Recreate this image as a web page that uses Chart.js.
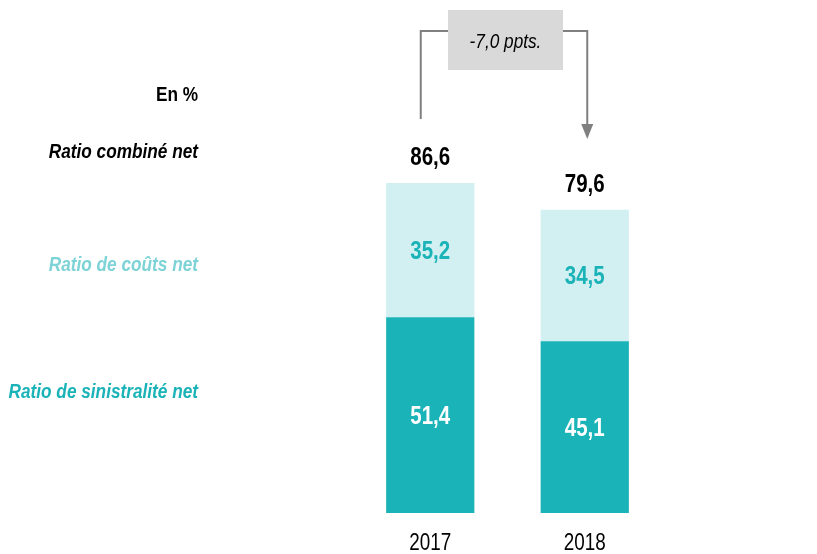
<!DOCTYPE html>
<html>
<head>
<meta charset="utf-8">
<script src="https://cdn.jsdelivr.net/npm/chart.js@4"></script>
<style>
  html, body { margin: 0; padding: 0; background: #fff; }
  #wrap { width: 817px; height: 554px; }
</style>
</head>
<body>
<div id="wrap"><canvas id="chart" width="817" height="554"></canvas></div>
<script>
const annees = ['2017', '2018'];
const sinistralite = [51.4, 45.1];
const couts = [35.2, 34.5];
const combine = [86.6, 79.6];
const ecart = '-7,0 ppts.';

const FONT = '"Liberation Sans", Arial, sans-serif';
const TEAL = '#1AB3B8';
const TEAL_CLAIR = '#D2EFF1';
const TEAL_TEXTE = '#7DD3D6';
const SERRE = 0.82; // police étroite simulée

function fmt(v) {
    return v.toFixed(1).replace('.', ',');
}

// texte condensé horizontalement (pas d'Arial Narrow dispo)
function texte(ctx, str, x, y, font, color, align) {
    ctx.save();
    ctx.font = font + ' ' + FONT;
    ctx.fillStyle = color;
    ctx.textAlign = align || 'center';
    ctx.textBaseline = 'middle';
    ctx.translate(x, y);
    ctx.scale(SERRE, 1);
    ctx.fillText(str, 0, 0);
    ctx.restore();
}

// --- Étiquettes, libellés à gauche et flèche d'écart ---
const decorPlugin = {
    id: 'decor',
    afterDatasetsDraw(chart) {
        const ctx = chart.ctx;
        const y = chart.scales.y;
        const bas = chart.getDatasetMeta(0).data;
        const haut = chart.getDatasetMeta(1).data;

        bas.forEach((bar, i) => {
            texte(ctx, fmt(sinistralite[i]), bar.x, (bar.y + bar.base) / 2 + 2.5, 'bold 25px', '#fff');
            texte(ctx, chart.data.labels[i], bar.x, chart.chartArea.bottom + 31, '23px', '#000');
        });
        haut.forEach((bar, i) => {
            texte(ctx, fmt(couts[i]), bar.x, (bar.y + bar.base) / 2 + 2, 'bold 25px', TEAL);
            texte(ctx, fmt(combine[i]), bar.x, y.getPixelForValue(combine[i]) - 25, 'bold 25px', '#000');
        });

        // libellés à gauche
        const xl = 198;
        texte(ctx, 'En %', xl, 95, 'bold 21px', '#000', 'right');
        texte(ctx, 'Ratio combiné net', xl, 152, 'italic bold 21px', '#000', 'right');
        texte(ctx, 'Ratio de coûts net', xl, 265, 'italic bold 21px', TEAL_TEXTE, 'right');
        texte(ctx, 'Ratio de sinistralité net', xl, 392, 'italic bold 21px', TEAL, 'right');

        // flèche d'écart
        const xa = haut[0].x - 9.5;
        const xb = haut[1].x + 2.5;
        const yh = 31;
        const boxL = 448, boxR = 563, boxT = 10, boxB = 70;
        ctx.save();
        ctx.strokeStyle = '#808080';
        ctx.lineWidth = 2;
        ctx.beginPath();
        ctx.moveTo(xa, y.getPixelForValue(combine[0]) - 64);
        ctx.lineTo(xa, yh);
        ctx.lineTo(boxL, yh);
        ctx.moveTo(boxR, yh);
        ctx.lineTo(xb, yh);
        ctx.lineTo(xb, 126);
        ctx.stroke();
        ctx.fillStyle = '#808080';
        ctx.beginPath();
        ctx.moveTo(xb - 6, 124);
        ctx.lineTo(xb + 6, 124);
        ctx.lineTo(xb, 139);
        ctx.closePath();
        ctx.fill();
        ctx.fillStyle = '#D9D9D9';
        ctx.fillRect(boxL, boxT, boxR - boxL, boxB - boxT);
        ctx.restore();
        texte(ctx, ecart, (boxL + boxR) / 2, 42, 'italic 21px', '#000');
    }
};

new Chart(document.getElementById('chart').getContext('2d'), {
    type: 'bar',
    data: {
        labels: annees,
        datasets: [
            { label: 'Ratio de sinistralité net', data: sinistralite, backgroundColor: TEAL, borderWidth: 0 },
            { label: 'Ratio de coûts net', data: couts, backgroundColor: TEAL_CLAIR, borderWidth: 0 }
        ]
    },
    options: {
        responsive: false,
        animation: false,
        devicePixelRatio: 1,
        layout: { padding: { left: 353, right: 155, top: 132, bottom: 41 } },
        plugins: { legend: { display: false }, tooltip: { enabled: false } },
        datasets: { bar: { barPercentage: 0.571, categoryPercentage: 1 } },
        scales: {
            x: { stacked: true, display: false },
            y: { stacked: true, display: false, min: 0, max: 100 }
        }
    },
    plugins: [decorPlugin]
});
</script>
</body>
</html>
